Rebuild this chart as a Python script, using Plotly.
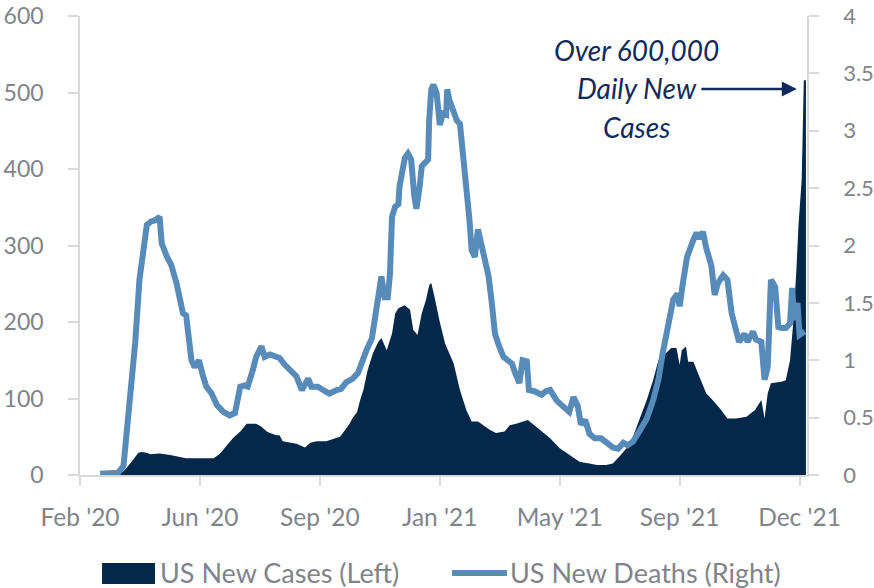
import plotly.graph_objects as go

# ---------------- DATA ----------------
tick_dates = ["2020-02-15", "2020-06-07", "2020-09-28", "2021-01-19",
              "2021-05-12", "2021-09-02", "2021-12-24"]
tick_labels = ["Feb '20", "Jun '20", "Sep '20", "Jan '21", "May '21", "Sep '21", "Dec '21"]

# US new cases, thousands (left axis)
case_dates = [
    "2020-03-05", "2020-03-22", "2020-03-27", "2020-03-31", "2020-04-05", "2020-04-10",
    "2020-04-13", "2020-04-18", "2020-04-21", "2020-04-30", "2020-05-10", "2020-05-19",
    "2020-05-25", "2020-06-07", "2020-06-20", "2020-06-26", "2020-06-29", "2020-07-05",
    "2020-07-08", "2020-07-15", "2020-07-21", "2020-07-27", "2020-07-30", "2020-08-04",
    "2020-08-09", "2020-08-12", "2020-08-18", "2020-08-21", "2020-08-24", "2020-09-06",
    "2020-09-12", "2020-09-14", "2020-09-19", "2020-09-25", "2020-10-04", "2020-10-14",
    "2020-10-17", "2020-10-23", "2020-10-26", "2020-10-29", "2020-11-02", "2020-11-05",
    "2020-11-08", "2020-11-12", "2020-11-17", "2020-11-22", "2020-11-25", "2020-11-30",
    "2020-12-05", "2020-12-08", "2020-12-11", "2020-12-17", "2020-12-22", "2020-12-25",
    "2020-12-29", "2021-01-02", "2021-01-06", "2021-01-09", "2021-01-11", "2021-01-14",
    "2021-01-19", "2021-01-24", "2021-01-28", "2021-02-01", "2021-02-07", "2021-02-13",
    "2021-02-18", "2021-02-24", "2021-03-01", "2021-03-07", "2021-03-13", "2021-03-21",
    "2021-03-26", "2021-04-01", "2021-04-12", "2021-04-20", "2021-04-26", "2021-05-03",
    "2021-05-12", "2021-05-21", "2021-05-31", "2021-06-09", "2021-06-16", "2021-06-25",
    "2021-07-01", "2021-07-07", "2021-07-14", "2021-07-20", "2021-07-26", "2021-08-02",
    "2021-08-08", "2021-08-13", "2021-08-20", "2021-08-25", "2021-08-30", "2021-09-02",
    "2021-09-04", "2021-09-08", "2021-09-10", "2021-09-15", "2021-09-21", "2021-09-27",
    "2021-10-03", "2021-10-10", "2021-10-17", "2021-10-25", "2021-11-04", "2021-11-12",
    "2021-11-18", "2021-11-21", "2021-11-24", "2021-11-27", "2021-12-07", "2021-12-11",
    "2021-12-15", "2021-12-18", "2021-12-21", "2021-12-23", "2021-12-26", "2021-12-27",
    "2021-12-28", "2021-12-30",
]
case_values = [
    0, 1, 5, 11, 20, 29,
    30, 29, 27, 28, 26, 24,
    22, 22, 22, 28, 33, 44,
    48, 57, 67, 67, 67, 63,
    57, 55, 52, 52, 44, 41,
    37, 36, 42, 44, 44, 48,
    50, 61, 67, 75, 82, 98,
    111, 137, 159, 174, 179, 163,
    185, 211, 218, 222, 216, 190,
    183, 211, 229, 248, 251, 233,
    200, 172, 159, 146, 111, 85,
    70, 70, 65, 59, 55, 57,
    65, 67, 72, 63, 55, 48,
    35, 26, 17, 15, 13, 13,
    15, 24, 35, 50, 72, 98,
    124, 150, 159, 166, 166, 144,
    163, 168, 148, 148, 127, 107,
    98, 87, 74, 74, 76, 85,
    98, 74, 107, 120, 122, 124,
    150, 198, 268, 327, 386, 477,
    516, 516,
]

# US new deaths, thousands (right axis)
death_dates = [
    "2020-03-05", "2020-03-22", "2020-03-27", "2020-04-02", "2020-04-07", "2020-04-11",
    "2020-04-15", "2020-04-18", "2020-04-22", "2020-04-26", "2020-04-30", "2020-05-02",
    "2020-05-07", "2020-05-11", "2020-05-16", "2020-05-19", "2020-05-22", "2020-05-25",
    "2020-05-27", "2020-05-30", "2020-06-02", "2020-06-06", "2020-06-10", "2020-06-13",
    "2020-06-18", "2020-06-23", "2020-06-29", "2020-07-05", "2020-07-10", "2020-07-15",
    "2020-07-19", "2020-07-22", "2020-07-27", "2020-07-30", "2020-08-04", "2020-08-07",
    "2020-08-12", "2020-08-17", "2020-08-21", "2020-08-26", "2020-09-01", "2020-09-06",
    "2020-09-11", "2020-09-17", "2020-09-20", "2020-09-26", "2020-10-03", "2020-10-07",
    "2020-10-14", "2020-10-18", "2020-10-23", "2020-10-29", "2020-11-03", "2020-11-06",
    "2020-11-11", "2020-11-16", "2020-11-19", "2020-11-20", "2020-11-23", "2020-11-25",
    "2020-11-28", "2020-12-01", "2020-12-03", "2020-12-05", "2020-12-08", "2020-12-11",
    "2020-12-12", "2020-12-15", "2020-12-17", "2020-12-20", "2020-12-23", "2020-12-26",
    "2020-12-28", "2020-12-31", "2021-01-02", "2021-01-05", "2021-01-08", "2021-01-09",
    "2021-01-11", "2021-01-13", "2021-01-16", "2021-01-19", "2021-01-22", "2021-01-25",
    "2021-01-26", "2021-01-28", "2021-02-01", "2021-02-04", "2021-02-07", "2021-02-10",
    "2021-02-13", "2021-02-16", "2021-02-18", "2021-02-21", "2021-02-24", "2021-02-27",
    "2021-03-02", "2021-03-06", "2021-03-09", "2021-03-12", "2021-03-16", "2021-03-20",
    "2021-03-24", "2021-03-28", "2021-03-31", "2021-04-04", "2021-04-07", "2021-04-11",
    "2021-04-13", "2021-04-18", "2021-04-25", "2021-04-29", "2021-05-03", "2021-05-09",
    "2021-05-15", "2021-05-21", "2021-05-25", "2021-05-29", "2021-06-01", "2021-06-05",
    "2021-06-09", "2021-06-14", "2021-06-20", "2021-06-25", "2021-07-01", "2021-07-06",
    "2021-07-11", "2021-07-15", "2021-07-20", "2021-07-26", "2021-08-02", "2021-08-08",
    "2021-08-13", "2021-08-17", "2021-08-22", "2021-08-27", "2021-08-31", "2021-09-02",
    "2021-09-05", "2021-09-09", "2021-09-15", "2021-09-18", "2021-09-21", "2021-09-24",
    "2021-09-27", "2021-10-02", "2021-10-05", "2021-10-08", "2021-10-13", "2021-10-17",
    "2021-10-21", "2021-10-25", "2021-10-28", "2021-11-02", "2021-11-05", "2021-11-10",
    "2021-11-13", "2021-11-18", "2021-11-21", "2021-11-24", "2021-11-27", "2021-12-01",
    "2021-12-04", "2021-12-07", "2021-12-11", "2021-12-15", "2021-12-17", "2021-12-19",
    "2021-12-22", "2021-12-24", "2021-12-29",
]
death_values = [
    0.01, 0.02, 0.08, 0.60, 1.15, 1.70,
    2.04, 2.18, 2.21, 2.22, 2.25, 2.02,
    1.90, 1.83, 1.67, 1.50, 1.41, 1.39,
    1.24, 1.00, 0.94, 1.00, 0.86, 0.77,
    0.71, 0.61, 0.55, 0.52, 0.54, 0.77,
    0.78, 0.77, 0.92, 1.03, 1.12, 1.03,
    1.05, 1.03, 1.02, 0.96, 0.90, 0.86,
    0.74, 0.84, 0.77, 0.77, 0.73, 0.71,
    0.74, 0.75, 0.81, 0.84, 0.89, 0.98,
    1.09, 1.19, 1.37, 1.51, 1.61, 1.73,
    1.55, 1.55, 1.74, 2.25, 2.34, 2.36,
    2.51, 2.63, 2.76, 2.80, 2.75, 2.43,
    2.32, 2.51, 2.69, 2.72, 2.75, 3.09,
    3.36, 3.40, 3.33, 3.05, 3.15, 3.14,
    3.36, 3.27, 3.15, 3.09, 3.06, 2.80,
    2.51, 2.22, 1.96, 1.90, 2.14, 2.02,
    1.87, 1.73, 1.50, 1.23, 1.12, 1.03,
    1.00, 0.97, 0.89, 0.80, 1.00, 0.99,
    0.74, 0.73, 0.70, 0.73, 0.74, 0.65,
    0.60, 0.55, 0.68, 0.60, 0.44, 0.48,
    0.36, 0.32, 0.32, 0.29, 0.24, 0.23,
    0.28, 0.26, 0.29, 0.38, 0.49, 0.65,
    0.83, 1.06, 1.29, 1.53, 1.58, 1.47,
    1.67, 1.90, 2.05, 2.11, 2.06, 2.12,
    1.98, 1.82, 1.57, 1.67, 1.74, 1.70,
    1.41, 1.29, 1.16, 1.23, 1.16, 1.25,
    1.18, 1.16, 0.83, 0.94, 1.70, 1.64,
    1.29, 1.28, 1.28, 1.32, 1.63, 1.35,
    1.50, 1.22, 1.25,
]

series_names = ["US New Cases (Left)", "US New Deaths (Right)"]
callout_lines = ["Over 600,000", "Daily New", "Cases"]

# ---------------- STYLE ----------------
NAVY = "#03284a"
STEEL = "#578bba"
TEXT_NAVY = "#112a5c"
AXIS_GRAY = "#d9d9d9"
LABEL_GRAY = "#7f8489"
FONT = "Lato"

fig = go.Figure()
fig.add_trace(go.Scatter(
    x=case_dates, y=case_values, name=series_names[0], mode="lines",
    line=dict(width=0, color=NAVY), fill="tozeroy", fillcolor=NAVY,
    yaxis="y", showlegend=False, hoverinfo="skip",
))
fig.add_trace(go.Scatter(
    x=death_dates, y=death_values, name=series_names[1], mode="lines",
    line=dict(width=6, color=STEEL),
    yaxis="y2", showlegend=False, hoverinfo="skip",
))

axis_common = dict(
    showline=True, linecolor=AXIS_GRAY, linewidth=1.5,
    ticks="outside", tickcolor=AXIS_GRAY, tickwidth=1.5,
    showgrid=False, zeroline=False, automargin=False,
    ticklabeloverflow="allow",
)
yfont = dict(family=FONT, size=23, color=LABEL_GRAY)
y2font = dict(family=FONT, size=22, color=LABEL_GRAY)
xfont = dict(family=FONT, size=24.5, color=LABEL_GRAY)

fig.update_layout(
    width=874, height=588,
    margin=dict(l=80, r=67, t=16, b=113),
    paper_bgcolor="white", plot_bgcolor="white",
    showlegend=False,
    xaxis=dict(type="date", range=["2020-02-15", "2021-12-31"],
               tickmode="array", tickvals=tick_dates, ticktext=tick_labels,
               ticklen=9, ticklabelstandoff=11, tickfont=xfont, **axis_common),
    yaxis=dict(range=[0, 600], tick0=0, dtick=100, ticklen=10,
               ticklabelstandoff=20, tickfont=yfont, **axis_common),
    yaxis2=dict(range=[0, 4], tick0=0, dtick=0.5, overlaying="y", side="right",
                ticklen=10, ticklabelstandoff=20, tickfont=y2font, **axis_common),
)

# callout text, one annotation per line
for txt, yp in zip(callout_lines, [0.925, 0.843, 0.758]):
    fig.add_annotation(
        xref="paper", yref="paper", x=0.766, y=yp, text=txt, showarrow=False,
        xanchor="center", yanchor="middle",
        font=dict(family=FONT, size=28, color=TEXT_NAVY, style="italic"),
    )
# arrow
fig.add_annotation(
    xref="paper", yref="paper", x=0.986, y=0.841, text="",
    showarrow=True, ax=-97, ay=0, arrowhead=2, arrowsize=1.2, arrowwidth=2.5,
    arrowcolor=TEXT_NAVY,
)

# legend (drawn manually)
legend_font = dict(family=FONT, size=27, color=LABEL_GRAY)
fig.add_shape(type="rect", xref="paper", yref="paper",
              x0=0.0303, x1=0.1032, y0=-0.2375, y1=-0.1917,
              fillcolor=NAVY, line=dict(width=0))
fig.add_shape(type="line", xref="paper", yref="paper",
              x0=0.5117, x1=0.5873, y0=-0.2135, y1=-0.2135,
              line=dict(color=STEEL, width=6))
fig.add_annotation(xref="paper", yref="paper", x=0.1073, y=-0.2135,
                   text=series_names[0], showarrow=False,
                   xanchor="left", yanchor="middle", font=legend_font)
fig.add_annotation(xref="paper", yref="paper", x=0.5887, y=-0.2135,
                   text=series_names[1], showarrow=False,
                   xanchor="left", yanchor="middle", font=legend_font)

fig.write_html("out.html",
               config={"displayModeBar": False},
               post_script="document.body.style.margin='0';document.body.style.overflow='hidden';")
